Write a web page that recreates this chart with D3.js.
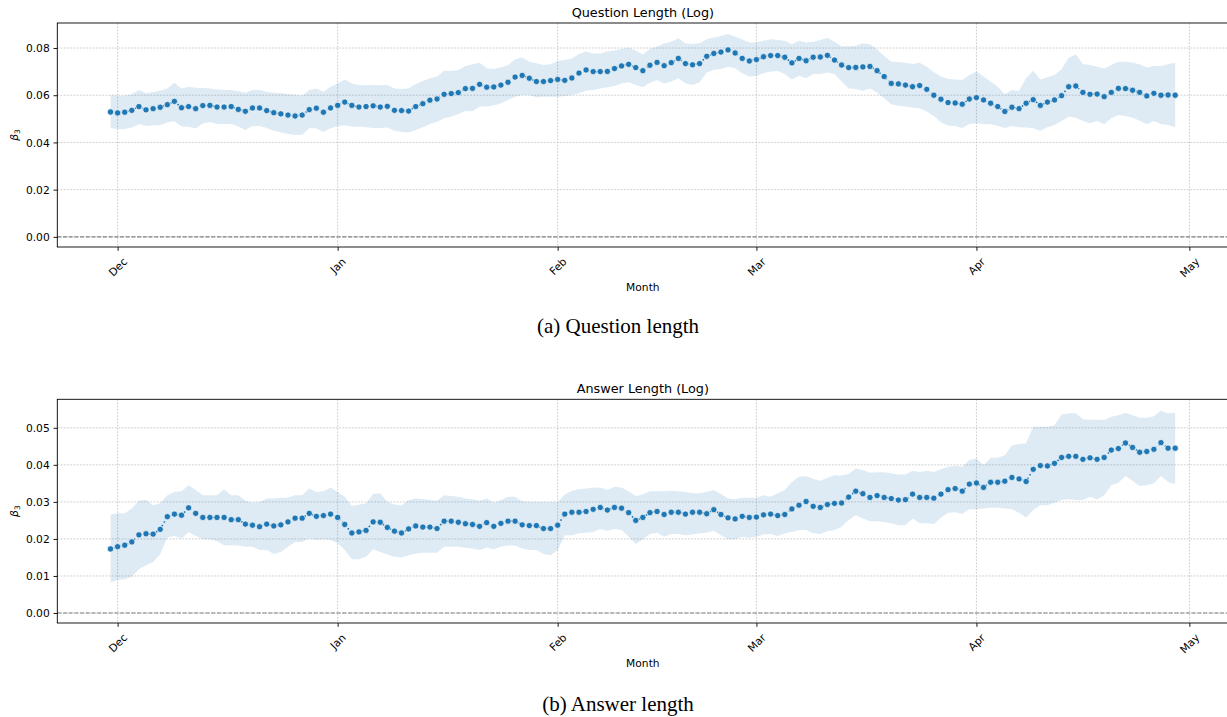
<!DOCTYPE html>
<html>
<head>
<meta charset="utf-8">
<script src="https://cdn.jsdelivr.net/npm/d3@7"></script>
<style>
  body { margin: 0; background: #fff; }
  svg { display: block; font-family: "DejaVu Sans", sans-serif; }
</style>
</head>
<body>
<div id="chart"></div>
<script>
// --- Data (one value per day from Nov 30) ---
const startDate = new Date(Date.UTC(2022, 10, 30));

const qVal = [
  .0529,.0525,.0528,.0536,.0552,.0538,.0543,.0549,.0560,.0574,
  .0547,.0552,.0543,.0556,.0557,.0550,.0550,.0552,.0540,.0532,
  .0546,.0546,.0535,.0526,.0521,.0516,.0512,.0516,.0539,.0545,
  .0528,.0546,.0557,.0571,.0557,.0550,.0552,.0555,.0550,.0553,
  .0536,.0535,.0533,.0552,.0564,.0579,.0584,.0604,.0607,.0611,
  .0628,.0629,.0646,.0634,.0635,.0643,.0655,.0677,.0684,.0672,
  .0658,.0658,.0662,.0667,.0663,.0673,.0694,.0707,.0700,.0700,
  .0701,.0713,.0724,.0731,.0717,.0704,.0727,.0739,.0725,.0738,
  .0756,.0734,.0729,.0734,.0765,.0777,.0783,.0792,.0779,.0756,
  .0745,.0751,.0763,.0768,.0768,.0761,.0737,.0756,.0746,.0761,
  .0762,.0769,.0749,.0728,.0717,.0718,.0720,.0722,.0704,.0679,
  .0650,.0648,.0643,.0636,.0641,.0625,.0600,.0583,.0569,.0567,
  .0562,.0584,.0590,.0580,.0566,.0552,.0531,.0549,.0543,.0566,
  .0581,.0557,.0571,.0580,.0598,.0636,.0639,.0612,.0604,.0605,
  .0594,.0612,.0629,.0628,.0621,.0612,.0597,.0608,.0600,.0601,
  .0600
];
const qHi = [
  .0600,.0598,.0598,.0604,.0622,.0608,.0614,.0619,.0629,.0653,
  .0629,.0636,.0632,.0631,.0629,.0624,.0622,.0622,.0618,.0611,
  .0622,.0622,.0615,.0611,.0608,.0605,.0602,.0598,.0622,.0629,
  .0615,.0636,.0650,.0667,.0650,.0643,.0642,.0643,.0642,.0643,
  .0629,.0626,.0629,.0648,.0660,.0672,.0679,.0704,.0703,.0707,
  .0724,.0731,.0738,.0714,.0711,.0717,.0727,.0752,.0761,.0742,
  .0735,.0728,.0731,.0745,.0749,.0756,.0775,.0785,.0777,.0777,
  .0785,.0789,.0796,.0801,.0789,.0773,.0796,.0806,.0820,.0827,
  .0841,.0820,.0817,.0820,.0837,.0845,.0851,.0859,.0848,.0837,
  .0823,.0823,.0831,.0837,.0834,.0831,.0816,.0831,.0823,.0827,
  .0834,.0844,.0827,.0808,.0808,.0810,.0820,.0816,.0794,.0766,
  .0742,.0741,.0738,.0732,.0738,.0721,.0697,.0679,.0669,.0667,
  .0665,.0686,.0700,.0679,.0658,.0636,.0604,.0622,.0619,.0672,
  .0704,.0667,.0676,.0686,.0710,.0759,.0773,.0732,.0728,.0721,
  .0713,.0728,.0742,.0742,.0738,.0731,.0718,.0724,.0724,.0731,
  .0738
];
const qLo = [
  .0461,.0457,.0457,.0463,.0478,.0470,.0473,.0474,.0484,.0490,
  .0467,.0466,.0459,.0480,.0487,.0478,.0478,.0478,.0467,.0453,
  .0470,.0470,.0461,.0449,.0442,.0436,.0432,.0433,.0460,.0460,
  .0444,.0460,.0470,.0473,.0467,.0466,.0464,.0461,.0461,.0463,
  .0449,.0444,.0442,.0453,.0464,.0478,.0488,.0502,.0509,.0521,
  .0533,.0532,.0552,.0552,.0556,.0566,.0580,.0594,.0601,.0601,
  .0591,.0594,.0594,.0594,.0597,.0601,.0608,.0619,.0622,.0629,
  .0634,.0639,.0650,.0655,.0643,.0634,.0653,.0665,.0650,.0658,
  .0672,.0650,.0643,.0655,.0696,.0707,.0711,.0721,.0714,.0693,
  .0679,.0682,.0693,.0700,.0703,.0690,.0667,.0682,.0672,.0690,
  .0690,.0696,.0690,.0658,.0629,.0626,.0619,.0629,.0611,.0587,
  .0562,.0555,.0552,.0547,.0545,.0531,.0512,.0485,.0471,.0470,
  .0461,.0478,.0481,.0478,.0477,.0471,.0461,.0470,.0464,.0463,
  .0460,.0450,.0464,.0474,.0491,.0509,.0505,.0491,.0481,.0491,
  .0477,.0502,.0516,.0512,.0505,.0492,.0477,.0491,.0478,.0474,
  .0464
];

const aVal = [
  .0173,.0179,.0183,.0192,.0211,.0214,.0213,.0226,.0260,.0267,
  .0264,.0284,.0269,.0258,.0258,.0258,.0258,.0252,.0252,.0240,
  .0237,.0233,.0240,.0235,.0238,.0246,.0256,.0256,.0269,.0261,
  .0263,.0267,.0258,.0239,.0216,.0219,.0223,.0246,.0245,.0231,
  .0221,.0216,.0227,.0235,.0232,.0232,.0228,.0248,.0248,.0245,
  .0241,.0239,.0234,.0244,.0234,.0242,.0248,.0248,.0238,.0236,
  .0236,.0228,.0228,.0237,.0267,.0272,.0272,.0274,.0280,.0285,
  .0278,.0285,.0283,.0271,.0250,.0258,.0271,.0274,.0266,.0272,
  .0272,.0267,.0272,.0272,.0268,.0279,.0266,.0257,.0254,.0261,
  .0258,.0259,.0265,.0267,.0263,.0266,.0281,.0291,.0301,.0288,
  .0285,.0293,.0296,.0297,.0313,.0329,.0322,.0312,.0317,.0312,
  .0309,.0305,.0306,.0321,.0312,.0312,.0310,.0321,.0333,.0336,
  .0329,.0348,.0351,.0339,.0353,.0353,.0356,.0366,.0362,.0355,
  .0388,.0398,.0397,.0404,.0420,.0423,.0423,.0415,.0419,.0415,
  .0420,.0440,.0444,.0459,.0447,.0434,.0436,.0442,.0460,.0445,
  .0445
];
const aHi = [
  .0266,.0269,.0269,.0282,.0303,.0305,.0291,.0296,.0318,.0327,
  .0329,.0345,.0332,.0318,.0318,.0318,.0334,.0318,.0318,.0303,
  .0298,.0300,.0309,.0309,.0311,.0312,.0318,.0318,.0336,.0327,
  .0329,.0339,.0327,.0314,.0289,.0292,.0296,.0321,.0323,.0300,
  .0293,.0290,.0305,.0309,.0308,.0305,.0303,.0318,.0316,.0314,
  .0309,.0307,.0303,.0309,.0298,.0305,.0314,.0314,.0302,.0300,
  .0300,.0300,.0300,.0300,.0320,.0330,.0334,.0336,.0338,.0339,
  .0332,.0341,.0339,.0329,.0316,.0320,.0329,.0329,.0329,.0330,
  .0329,.0327,.0323,.0323,.0327,.0332,.0321,.0309,.0307,.0311,
  .0311,.0311,.0318,.0314,.0323,.0332,.0354,.0368,.0370,.0362,
  .0357,.0365,.0372,.0371,.0375,.0390,.0386,.0379,.0380,.0380,
  .0377,.0374,.0374,.0384,.0381,.0384,.0381,.0388,.0395,.0397,
  .0395,.0413,.0417,.0399,.0419,.0419,.0426,.0453,.0456,.0458,
  .0503,.0503,.0503,.0507,.0536,.0539,.0539,.0523,.0522,.0522,
  .0521,.0530,.0534,.0541,.0534,.0527,.0527,.0531,.0546,.0539,
  .0541
];
const aLo = [
  .0083,.0089,.0091,.0098,.0118,.0129,.0138,.0159,.0204,.0208,
  .0201,.0219,.0208,.0199,.0199,.0194,.0183,.0183,.0182,.0179,
  .0179,.0170,.0170,.0159,.0165,.0179,.0192,.0192,.0201,.0197,
  .0199,.0197,.0188,.0170,.0145,.0145,.0152,.0172,.0165,.0158,
  .0152,.0150,.0156,.0160,.0163,.0163,.0163,.0179,.0179,.0179,
  .0176,.0174,.0170,.0177,.0172,.0179,.0182,.0182,.0174,.0170,
  .0170,.0159,.0156,.0170,.0210,.0210,.0215,.0217,.0219,.0227,
  .0222,.0227,.0224,.0206,.0186,.0199,.0213,.0217,.0206,.0213,
  .0213,.0210,.0212,.0215,.0217,.0222,.0210,.0199,.0199,.0206,
  .0203,.0206,.0212,.0213,.0208,.0215,.0219,.0224,.0224,.0215,
  .0213,.0221,.0224,.0233,.0251,.0264,.0255,.0248,.0248,.0246,
  .0242,.0237,.0237,.0255,.0242,.0242,.0240,.0257,.0271,.0272,
  .0267,.0280,.0280,.0282,.0285,.0284,.0282,.0280,.0271,.0258,
  .0278,.0291,.0291,.0298,.0305,.0307,.0305,.0305,.0314,.0307,
  .0318,.0345,.0352,.0370,.0357,.0343,.0345,.0350,.0370,.0354,
  .0348
];

const yTicksQ = [0, 0.02, 0.04, 0.06, 0.08];
const yTicksA = [0, 0.01, 0.02, 0.03, 0.04, 0.05];
const yDomainQ = [-0.0043, 0.0906];
const yDomainA = [-0.0027, 0.0577];

// --- Layout ---
const width = 1227;
const height = 717;
const plotLeft = 57.3;
const plotRight = 1228.4;
const tickLen = 3.8;
const tickPad = 3.8;
const fs = 10.7;
const blue = '#1f77b4';

const days = qVal.map((_, i) => d3.utcDay.offset(startDate, i));
const lastDate = days[days.length - 1];

const x = d3.scaleUtc()
    .domain([d3.utcHour.offset(startDate, -7.5 * 24), d3.utcHour.offset(lastDate, 7.5 * 24)])
    .range([plotLeft, plotRight]);

const monthTicks = d3.utcMonth.range(new Date(Date.UTC(2022, 11, 1)), new Date(Date.UTC(2023, 4, 2)));

const panels = [
    { title: 'Question Length (Log)', caption: '(a) Question length', top: 23, bottom: 247,
      yDomain: yDomainQ, yTicks: yTicksQ, val: qVal, lo: qLo, hi: qHi, captionY: 333 },
    { title: 'Answer Length (Log)', caption: '(b) Answer length', top: 399.3, bottom: 623,
      yDomain: yDomainA, yTicks: yTicksA, val: aVal, lo: aLo, hi: aHi, captionY: 711 }
];

const svg = d3.select('#chart').append('svg')
    .attr('width', width)
    .attr('height', height);

svg.append('rect').attr('width', width).attr('height', height).attr('fill', '#fff');

panels.forEach(p => {
    const y = d3.scaleLinear().domain(p.yDomain).range([p.bottom, p.top]);
    const g = svg.append('g');

    // grid
    g.append('g').selectAll('line')
        .data(monthTicks)
        .join('line')
        .attr('x1', d => x(d)).attr('x2', d => x(d))
        .attr('y1', p.top).attr('y2', p.bottom)
        .attr('stroke', '#c8c8c8').attr('stroke-width', 0.9)
        .attr('stroke-dasharray', '1.8,1.4');
    g.append('g').selectAll('line')
        .data(p.yTicks)
        .join('line')
        .attr('x1', plotLeft).attr('x2', plotRight)
        .attr('y1', d => y(d)).attr('y2', d => y(d))
        .attr('stroke', '#c8c8c8').attr('stroke-width', 0.9)
        .attr('stroke-dasharray', '1.8,1.4');

    // confidence band
    const area = d3.area()
        .x((d, i) => x(days[i]))
        .y0((d, i) => y(p.lo[i]))
        .y1((d, i) => y(p.hi[i]));
    g.append('path')
        .datum(p.val)
        .attr('d', area)
        .attr('fill', blue)
        .attr('fill-opacity', 0.15);

    // zero line
    g.append('line')
        .attr('x1', plotLeft).attr('x2', plotRight)
        .attr('y1', y(0)).attr('y2', y(0))
        .attr('stroke', '#808080').attr('stroke-width', 1.1)
        .attr('stroke-dasharray', '4,1.7');

    // line + markers
    const line = d3.line()
        .x((d, i) => x(days[i]))
        .y(d => y(d));
    g.append('path')
        .datum(p.val)
        .attr('d', line)
        .attr('fill', 'none')
        .attr('stroke', blue)
        .attr('stroke-width', 1.6)
        .attr('stroke-dasharray', '1.6,2.6');
    g.append('g').selectAll('circle')
        .data(p.val)
        .join('circle')
        .attr('cx', (d, i) => x(days[i]))
        .attr('cy', d => y(d))
        .attr('r', 3.15)
        .attr('fill', blue)
        .attr('stroke', '#fff')
        .attr('stroke-width', 0.7);

    // spines
    g.append('rect')
        .attr('x', plotLeft).attr('y', p.top)
        .attr('width', plotRight - plotLeft).attr('height', p.bottom - p.top)
        .attr('fill', 'none').attr('stroke', '#000').attr('stroke-width', 0.9);

    // y axis
    const yAxis = g.append('g')
        .attr('transform', `translate(${plotLeft},0)`)
        .call(d3.axisLeft(y).tickValues(p.yTicks).tickFormat(d3.format('.2f'))
            .tickSize(tickLen).tickPadding(tickPad));
    yAxis.select('.domain').remove();
    yAxis.selectAll('line').attr('stroke', '#000').attr('stroke-width', 0.9);
    yAxis.selectAll('text')
        .attr('font-family', 'DejaVu Sans').attr('font-size', fs)
        .attr('fill', '#000').attr('dy', '0.35em');

    // x axis
    const xAxis = g.append('g')
        .attr('transform', `translate(0,${p.bottom})`)
        .call(d3.axisBottom(x).tickValues(monthTicks).tickFormat(d3.utcFormat('%b'))
            .tickSize(tickLen));
    xAxis.select('.domain').remove();
    xAxis.selectAll('line').attr('stroke', '#000').attr('stroke-width', 0.9);
    xAxis.selectAll('text')
        .attr('font-family', 'DejaVu Sans').attr('font-size', fs)
        .attr('fill', '#000')
        .attr('text-anchor', 'middle')
        .attr('dy', null)
        .attr('dominant-baseline', 'central')
        .each(function () {
            const w = this.getComputedTextLength();
            const hh = (w + fs) / Math.SQRT2;
            const cy = tickLen + tickPad + 1.5 + hh / 2;
            d3.select(this).attr('x', 0).attr('y', cy)
                .attr('transform', `rotate(-45,0,${cy})`);
        });

    // labels
    g.append('text')
        .attr('x', (plotLeft + plotRight) / 2).attr('y', p.top - 6.3)
        .attr('text-anchor', 'middle')
        .attr('font-size', 12.8)
        .text(p.title);
    g.append('text')
        .attr('x', (plotLeft + plotRight) / 2).attr('y', p.bottom + 44)
        .attr('text-anchor', 'middle')
        .attr('font-size', fs)
        .text('Month');

    const yl = g.append('text')
        .attr('transform', `translate(17.5,${(p.top + p.bottom) / 2}) rotate(-90)`)
        .attr('text-anchor', 'middle')
        .attr('font-size', fs);
    yl.append('tspan').attr('font-style', 'italic').text('β');
    yl.append('tspan').attr('font-size', fs * 0.7).attr('dy', 2.5).text('3');

    svg.append('text')
        .attr('x', 618).attr('y', p.captionY)
        .attr('text-anchor', 'middle')
        .attr('font-family', '"Liberation Serif", serif')
        .attr('font-size', 21)
        .text(p.caption);
});
</script>
</body>
</html>
